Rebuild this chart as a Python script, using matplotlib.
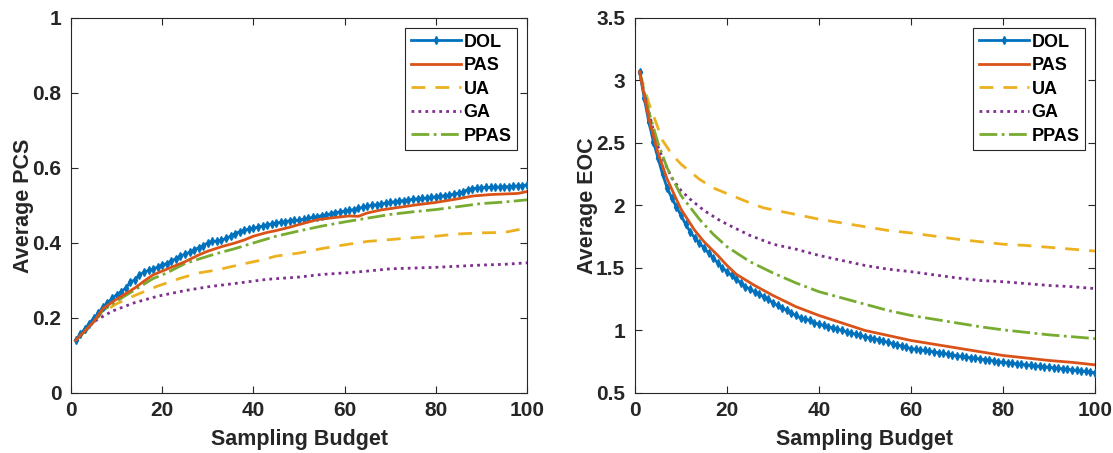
import matplotlib
matplotlib.use("Agg")
import matplotlib.pyplot as plt

plt.rcParams['font.family'] = ['Liberation Sans', 'DejaVu Sans']
plt.rcParams['font.weight'] = 'bold'

# ---------------- data ----------------
series_names = ["DOL", "PAS", "UA", "GA", "PPAS"]

# Average PCS vs sampling budget
dol_x = list(range(1, 101))
pcs_dol = [0.140, 0.157, 0.170, 0.185, 0.200, 0.212, 0.230, 0.240, 0.252, 0.262,
           0.270, 0.280, 0.295, 0.302, 0.315, 0.322, 0.327, 0.330, 0.336, 0.342,
           0.345, 0.352, 0.358, 0.365, 0.370, 0.375, 0.382, 0.387, 0.393, 0.400,
           0.404, 0.405, 0.407, 0.412, 0.418, 0.425, 0.430, 0.434, 0.437, 0.440,
           0.442, 0.445, 0.448, 0.451, 0.453, 0.455, 0.457, 0.459, 0.460, 0.461,
           0.463, 0.466, 0.468, 0.470, 0.473, 0.475, 0.478, 0.481, 0.483, 0.485,
           0.487, 0.489, 0.492, 0.495, 0.498, 0.500, 0.502, 0.504, 0.506, 0.508,
           0.510, 0.512, 0.513, 0.515, 0.516, 0.518, 0.519, 0.520, 0.522, 0.523,
           0.525, 0.526, 0.528, 0.530, 0.533, 0.536, 0.542, 0.545, 0.546, 0.547,
           0.548, 0.548, 0.549, 0.549, 0.550, 0.550, 0.551, 0.552, 0.553, 0.555]

pcs_pas_x = [1, 3, 5, 7, 10, 12, 14, 16, 18, 20, 22, 25, 28, 30, 33, 36, 38, 40, 43, 45,
             48, 50, 54, 58, 61, 63, 65, 68, 72, 76, 80, 85, 88, 92, 96, 98, 100]
pcs_pas = [0.140, 0.165, 0.190, 0.225, 0.250, 0.265, 0.280, 0.298, 0.315, 0.325, 0.335,
           0.350, 0.368, 0.378, 0.390, 0.400, 0.408, 0.418, 0.428, 0.433, 0.442, 0.449,
           0.462, 0.468, 0.472, 0.471, 0.480, 0.488, 0.495, 0.502, 0.508, 0.518, 0.525,
           0.529, 0.531, 0.532, 0.537]

pcs_ua_x = [1, 4, 7, 10, 14, 19, 24, 28, 32, 37, 42, 45, 50, 55, 60, 65, 70, 75, 80, 85,
            90, 95, 100]
pcs_ua = [0.140, 0.180, 0.215, 0.238, 0.260, 0.285, 0.306, 0.320, 0.328, 0.342, 0.355,
          0.365, 0.373, 0.385, 0.395, 0.404, 0.409, 0.414, 0.418, 0.424, 0.427, 0.428,
          0.440]

pcs_ga_x = [1, 3, 5, 9, 14, 19, 25, 30, 36, 43, 50, 55, 60, 65, 70, 75, 80, 85, 90, 95, 100]
pcs_ga = [0.140, 0.165, 0.190, 0.218, 0.241, 0.258, 0.273, 0.283, 0.292, 0.303, 0.309,
          0.316, 0.320, 0.325, 0.331, 0.333, 0.335, 0.338, 0.341, 0.343, 0.347]

pcs_ppas_x = [1, 4, 7, 10, 14, 18, 21, 25, 28, 32, 36, 40, 45, 50, 55, 60, 65, 70, 75, 80,
              85, 90, 95, 100]
pcs_ppas = [0.140, 0.175, 0.220, 0.245, 0.275, 0.305, 0.320, 0.345, 0.357, 0.372, 0.385,
            0.400, 0.418, 0.432, 0.445, 0.456, 0.466, 0.476, 0.483, 0.489, 0.497, 0.505,
            0.509, 0.515]

# Average EOC vs sampling budget
eoc_dol = [3.07, 2.86, 2.67, 2.51, 2.38, 2.25, 2.14, 2.06, 1.99, 1.92,
           1.85, 1.79, 1.74, 1.70, 1.66, 1.62, 1.58, 1.54, 1.50, 1.47,
           1.44, 1.41, 1.38, 1.35, 1.33, 1.31, 1.29, 1.27, 1.25, 1.22,
           1.20, 1.18, 1.16, 1.14, 1.12, 1.10, 1.09, 1.08, 1.06, 1.05,
           1.04, 1.03, 1.02, 1.01, 1.00, 0.99, 0.98, 0.97, 0.96, 0.95,
           0.940, 0.935, 0.925, 0.915, 0.905, 0.895, 0.885, 0.875, 0.865, 0.855,
           0.850, 0.845, 0.840, 0.834, 0.828, 0.822, 0.816, 0.810, 0.804, 0.797,
           0.792, 0.787, 0.782, 0.777, 0.772, 0.767, 0.762, 0.756, 0.750, 0.745,
           0.741, 0.737, 0.733, 0.729, 0.725, 0.721, 0.717, 0.713, 0.709, 0.705,
           0.701, 0.697, 0.693, 0.689, 0.685, 0.681, 0.677, 0.672, 0.667, 0.662]

eoc_pas_x = [1, 3, 5, 7, 10, 13, 15, 18, 20, 22, 26, 30, 35, 40, 45, 50, 55, 60, 65, 70,
             75, 80, 85, 90, 95, 100]
eoc_pas = [3.07, 2.70, 2.42, 2.21, 1.97, 1.80, 1.71, 1.60, 1.52, 1.45, 1.36, 1.28, 1.19,
           1.12, 1.06, 1.00, 0.96, 0.92, 0.89, 0.86, 0.83, 0.80, 0.78, 0.76, 0.745, 0.725]

eoc_ua_x = [1, 3, 4, 6, 8, 10, 14, 17, 21, 25, 28, 32, 40, 45, 50, 55, 60, 65, 70, 75, 80,
            85, 90, 95, 100]
eoc_ua = [3.07, 2.82, 2.72, 2.52, 2.41, 2.33, 2.21, 2.14, 2.08, 2.02, 1.98, 1.95, 1.89,
          1.86, 1.83, 1.80, 1.78, 1.755, 1.73, 1.71, 1.69, 1.68, 1.665, 1.65, 1.635]

eoc_ga_x = [1, 2, 3, 4, 5, 6, 7, 8, 10, 12, 15, 18, 20, 25, 30, 35, 40, 45, 50, 55, 60, 65,
            70, 75, 80, 85, 90, 95, 100]
eoc_ga = [3.07, 2.90, 2.75, 2.60, 2.47, 2.38, 2.30, 2.22, 2.12, 2.05, 1.96, 1.89, 1.85,
          1.76, 1.69, 1.65, 1.60, 1.56, 1.52, 1.49, 1.47, 1.445, 1.42, 1.40, 1.39, 1.375,
          1.36, 1.35, 1.335]

eoc_ppas_x = [1, 3, 5, 7, 10, 14, 17, 20, 25, 30, 35, 40, 45, 50, 55, 60, 65, 70, 75, 80,
              85, 90, 95, 100]
eoc_ppas = [3.07, 2.75, 2.50, 2.30, 2.08, 1.89, 1.77, 1.67, 1.55, 1.46, 1.38, 1.31, 1.26,
            1.21, 1.16, 1.12, 1.09, 1.06, 1.03, 1.005, 0.985, 0.965, 0.95, 0.935]

x_ticks = [0, 20, 40, 60, 80, 100]
pcs_ticks = [0, 0.2, 0.4, 0.6, 0.8, 1]
pcs_tick_labels = ["0", "0.2", "0.4", "0.6", "0.8", "1"]
eoc_ticks = [0.5, 1, 1.5, 2, 2.5, 3, 3.5]
eoc_tick_labels = ["0.5", "1", "1.5", "2", "2.5", "3", "3.5"]

# ---------------- styling ----------------
colors = {"DOL": "#0072BD", "PAS": "#D95319", "UA": "#EDB120",
          "GA": "#7E2F8E", "PPAS": "#77AC30"}
AX_COLOR = "#262626"
LW = 2.0

fig = plt.figure(figsize=(11.13, 4.53), dpi=100)
ax1 = fig.add_axes([0.0638, 0.1325, 0.4097, 0.828])
ax2 = fig.add_axes([0.5705, 0.1325, 0.4133, 0.828])


def draw(ax, dol, pas_x, pas, ua_x, ua, ga_x, ga, ppas_x, ppas):
    ax.plot(dol_x, dol, color=colors["DOL"], lw=LW, marker="d", ms=4,
            mec=colors["DOL"], mfc=colors["DOL"], label="DOL", zorder=5)
    ax.plot(pas_x, pas, color=colors["PAS"], lw=LW, label="PAS", zorder=6)
    ax.plot(ua_x, ua, color=colors["UA"], lw=LW, dashes=(5, 3.6), label="UA", zorder=4)
    ax.plot(ga_x, ga, color=colors["GA"], lw=LW, dashes=(1.0, 1.5), label="GA", zorder=4)
    ax.plot(ppas_x, ppas, color=colors["PPAS"], lw=LW, linestyle="-.", label="PPAS",
            zorder=4)


draw(ax1, pcs_dol, pcs_pas_x, pcs_pas, pcs_ua_x, pcs_ua, pcs_ga_x, pcs_ga,
     pcs_ppas_x, pcs_ppas)
draw(ax2, eoc_dol, eoc_pas_x, eoc_pas, eoc_ua_x, eoc_ua, eoc_ga_x, eoc_ga,
     eoc_ppas_x, eoc_ppas)

for ax, yt, ytl, ylim, ylabel in [
        (ax1, pcs_ticks, pcs_tick_labels, (0, 1), "Average PCS"),
        (ax2, eoc_ticks, eoc_tick_labels, (0.5, 3.5), "Average EOC")]:
    ax.set_xlim(0, 100)
    ax.set_ylim(*ylim)
    ax.set_xticks(x_ticks)
    ax.set_xticklabels([str(t) for t in x_ticks])
    ax.set_yticks(yt)
    ax.set_yticklabels(ytl)
    ax.tick_params(direction="in", top=True, right=True, length=5, width=0.8,
                   colors=AX_COLOR, labelsize=15)
    ax.tick_params(axis="x", pad=6)
    ax.tick_params(axis="y", pad=7)
    for s in ax.spines.values():
        s.set_color(AX_COLOR)
        s.set_linewidth(0.8)
    ax.set_xlabel("Sampling Budget", fontsize=15.5, fontweight="bold",
                  color=AX_COLOR, labelpad=6)
    ax.set_ylabel(ylabel, fontsize=15.5, fontweight="bold", color=AX_COLOR,
                  labelpad=-1)
    leg = ax.legend(loc="upper right", bbox_to_anchor=(0.978, 0.972),
                    fontsize=13, handlelength=2.8, handletextpad=0.12,
                    borderpad=0.3, labelspacing=0.36, fancybox=False,
                    framealpha=1, edgecolor=AX_COLOR, borderaxespad=0)
    leg.get_frame().set_linewidth(0.8)
    for t in leg.get_texts():
        t.set_fontweight("bold")
        t.set_color("black")

fig.savefig("out.png", dpi=100)
